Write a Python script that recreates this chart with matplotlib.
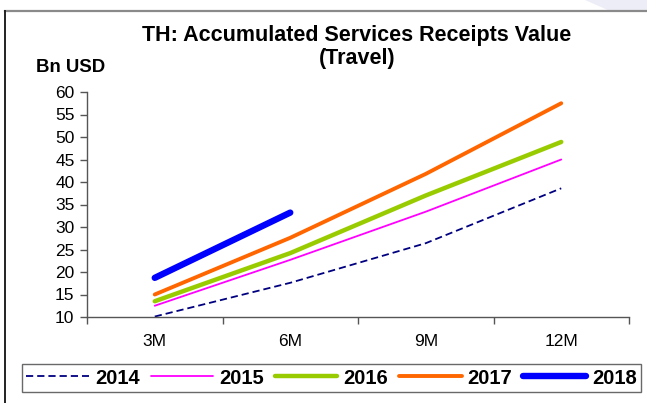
import matplotlib
matplotlib.use("Agg")
import matplotlib.pyplot as plt
from matplotlib.lines import Line2D
from matplotlib.patches import Polygon

plt.rcParams['font.family'] = ['Liberation Sans', 'DejaVu Sans']

periods = ["3M", "6M", "9M", "12M"]
years = ["2014", "2015", "2016", "2017", "2018"]
values = {
    "2014": [10.1, 17.6, 26.4, 38.6],
    "2015": [12.5, 22.7, 33.4, 45.0],
    "2016": [13.5, 24.2, 37.0, 48.9],
    "2017": [15.0, 27.6, 41.8, 57.5],
    "2018": [18.7, 33.2],
}
styles = {
    "2014": dict(color="#000080", lw=1.3, ls=(0, (4, 2.2))),
    "2015": dict(color="#FF00FF", lw=1.3, ls="-"),
    "2016": dict(color="#99CC00", lw=3.2, ls="-"),
    "2017": dict(color="#FF6600", lw=2.8, ls="-"),
    "2018": dict(color="#0000FF", lw=4.6, ls="-"),
}

W, H = 647, 403
fig = plt.figure(figsize=(W / 100, H / 100), dpi=100)

# slide background accent and frame
fig.patches.append(Polygon([[585 / W, 1], [1, 1], [1, (H - 11) / H], [610 / W, (H - 11) / H]],
                           closed=True, transform=fig.transFigure,
                           facecolor="#EDEDF7", edgecolor="none", zorder=0))
fig.add_artist(Line2D([5 / W, 1], [(H - 11) / H] * 2, transform=fig.transFigure,
                      color="#8A8A8A", lw=1.6))
fig.add_artist(Line2D([5 / W] * 2, [0, (H - 11) / H], transform=fig.transFigure,
                      color="#222222", lw=1.4))

ax = fig.add_axes([87 / W, (H - 317) / H, (629 - 87) / W, (317 - 92) / H])
x = list(range(len(periods)))
for yr in years:
    v = values[yr]
    ax.plot(x[:len(v)], v, label=yr, solid_capstyle="round", dash_capstyle="butt", **styles[yr])

ax.set_xlim(-0.5, len(periods) - 0.5)
ax.set_ylim(10, 60)
ax.set_yticks(range(10, 61, 5))
ax.set_xticks(x)
ax.set_xticklabels(periods)
ax.set_xticks([i - 0.5 for i in range(len(periods) + 1)], minor=True)
ax.tick_params(axis="x", which="major", length=0, pad=12, labelsize=12.5, colors="#000000")
ax.tick_params(axis="x", which="minor", length=5, width=1, color="#555555", direction="out")
ax.tick_params(axis="y", length=5, width=1, color="#555555", labelsize=12.5, pad=4)
for s in ["top", "right"]:
    ax.spines[s].set_visible(False)
for s in ["left", "bottom"]:
    ax.spines[s].set_color("#555555")
    ax.spines[s].set_linewidth(1)
ax.patch.set_alpha(0)

fig.text(357 / W, (H - 47) / H, "TH: Accumulated Services Receipts Value\n(Travel)",
         ha="center", va="center", fontsize=15.5, fontweight="bold", linespacing=1.1)
fig.text(36 / W, (H - 68) / H, "Bn USD", ha="left", va="center", fontsize=13.4, fontweight="bold")

leg = fig.legend(loc="center", bbox_to_anchor=(331.5 / W, (H - 378) / H),
                 bbox_transform=fig.transFigure, ncol=5, frameon=True,
                 fancybox=False, edgecolor="#444444", borderaxespad=0, borderpad=0.22,
                 handlelength=3.1, handletextpad=0.3, columnspacing=0.55,
                 prop=dict(weight="bold", size=14.5))
leg.get_frame().set_linewidth(1)

fig.savefig("out.png", dpi=100)
